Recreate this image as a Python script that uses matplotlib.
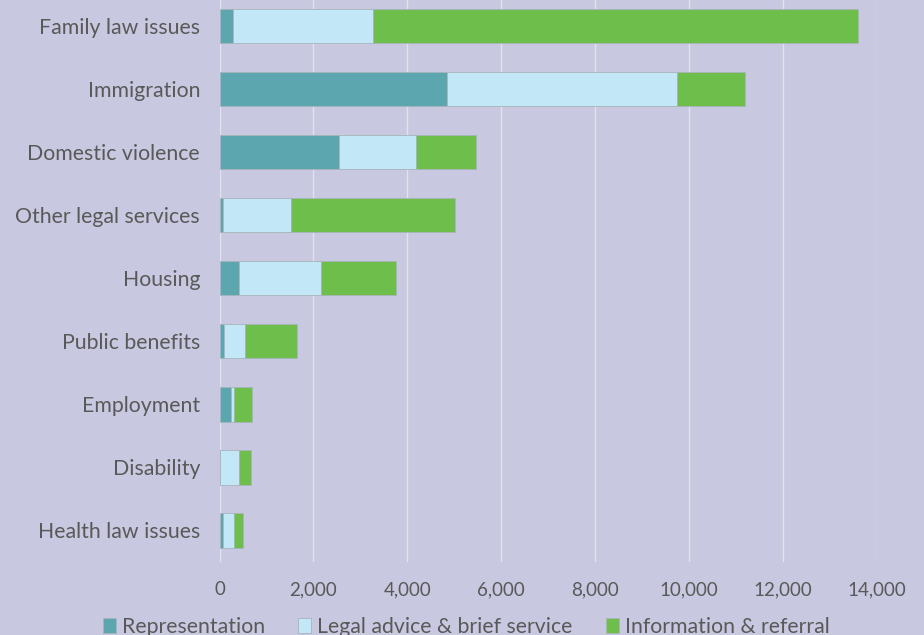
import matplotlib
matplotlib.use("Agg")
import matplotlib.pyplot as plt
import numpy as np

plt.rcParams['font.family'] = ['Lato', 'DejaVu Sans']

categories = ["Family law issues", "Immigration", "Domestic violence",
              "Other legal services", "Housing", "Public benefits",
              "Employment", "Disability", "Health law issues"]
representation = [290, 4840, 2545, 70, 410, 90, 240, 20, 70]
legal_advice = [2970, 4910, 1640, 1460, 1750, 450, 65, 390, 235]
info_referral = [10330, 1440, 1270, 3490, 1590, 1120, 385, 255, 190]
series_names = ["Representation", "Legal advice & brief service", "Information & referral"]
xticks = [0, 2000, 4000, 6000, 8000, 10000, 12000, 14000]

bg = '#c8c8e0'
colors = ['#5ca6b0', '#c2e8f8', '#6dbe4a']
text_col = '#595959'

fig = plt.figure(figsize=(9.24, 6.35), dpi=100, facecolor=bg)
ax = fig.add_axes([219.5/924, 73/635, (877-219.5)/924, 562/635])
ax.set_facecolor(bg)

y = np.arange(len(categories))
left = np.zeros(len(categories))
for vals, col, name in zip([representation, legal_advice, info_referral], colors, series_names):
    ax.barh(y, vals, left=left, height=0.545, color=col, label=name,
            edgecolor='#a8b4bc', linewidth=0.6, zorder=3)
    left += np.array(vals)

ax.set_xlim(0, 14000)
ax.set_ylim(8.5, -0.41)
ax.set_xticks(xticks)
ax.set_xticklabels([f"{v:,}" for v in xticks])
ax.set_yticks(y)
ax.set_yticklabels(categories)
ax.tick_params(axis='both', length=0, colors=text_col)
ax.tick_params(axis='x', labelsize=13.5, pad=14)
ax.tick_params(axis='y', labelsize=15.3, pad=14)
ax.grid(axis='x', color='#e2e2ee', linewidth=1.0, zorder=0)
for s in ax.spines.values():
    s.set_visible(False)

leg = fig.legend(loc='lower left', bbox_to_anchor=(84/924, -21/635), ncol=3,
                 frameon=False, fontsize=15.3, handlelength=0.6, handleheight=0.7,
                 handletextpad=0.3, columnspacing=1.55, labelcolor=text_col)

fig.savefig("out.png", dpi=100, facecolor=bg)
